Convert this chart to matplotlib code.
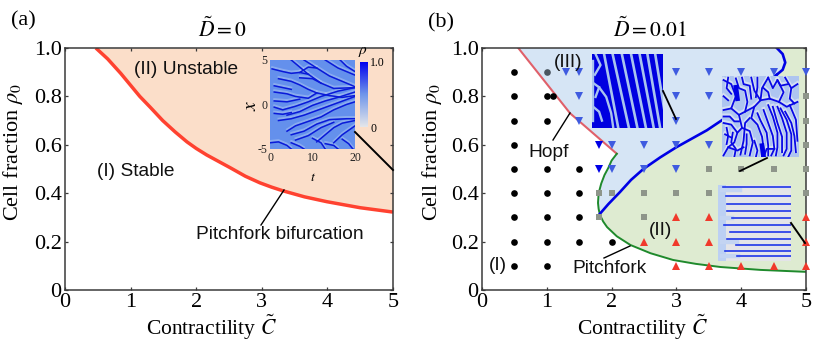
import matplotlib
matplotlib.use('Agg')
import numpy as np
import matplotlib.pyplot as plt
from matplotlib.colors import LinearSegmentedColormap
from matplotlib.cm import ScalarMappable
from matplotlib.colors import Normalize
from matplotlib.lines import Line2D

plt.rcParams['font.family'] = ['Liberation Serif', 'DejaVu Serif']
plt.rcParams['mathtext.fontset'] = 'stix'

W, H = 830, 342

# boundaries
pitch_a_c = [0.47, 0.65, 0.85, 1.14, 1.3, 1.49, 1.68, 1.86, 2.0, 2.16, 2.35, 2.52, 2.75, 2.97, 3.15, 3.32, 3.65, 3.99, 4.5, 5.0]
pitch_a_r = [1.0, 0.955, 0.895, 0.80, 0.755, 0.70, 0.653, 0.612, 0.585, 0.558, 0.53, 0.505, 0.47, 0.443, 0.425, 0.41, 0.385, 0.365, 0.34, 0.322]
hopf_c = [0.56, 1.36, 2.08]
hopf_r = [1.0, 0.73, 0.563]
pitch_b_c = [2.08, 2.0, 1.95, 1.89, 1.84, 1.80, 1.79, 1.80, 1.82, 1.87, 1.93, 2.08, 2.29, 2.6, 2.95, 3.3, 3.68, 4.3, 5.0]
pitch_b_r = [0.563, 0.535, 0.505, 0.475, 0.44, 0.40, 0.36, 0.335, 0.31, 0.283, 0.26, 0.222, 0.186, 0.152, 0.124, 0.108, 0.095, 0.083, 0.075]
sec_c = [1.82, 1.95, 2.13, 2.3, 2.49, 2.75, 3.0, 3.47, 3.71, 4.1, 4.55]
sec_r = [0.315, 0.355, 0.405, 0.455, 0.50, 0.548, 0.59, 0.66, 0.703, 0.79, 0.89]
arc_c = [4.55, 4.64, 4.68, 4.64, 4.55]
arc_r = [0.89, 0.91, 0.94, 0.975, 1.0]

# simulation points in panel (b)
stable_c = [0.5, 0.5, 0.5, 0.5, 0.5, 0.5, 0.5, 0.5, 0.5, 1, 1, 1, 1, 1, 1, 1, 1.1, 1.5, 1.5, 1.5, 1.5, 2]
stable_r = [0.9, 0.8, 0.7, 0.6, 0.5, 0.4, 0.3, 0.2, 0.1, 0.8, 0.7, 0.5, 0.4, 0.3, 0.2, 0.1, 0.8, 0.5, 0.4, 0.3, 0.2, 0.2]
edge_c = [1.0]
edge_r = [0.9]
hopf_pts_c = [1.3, 1.5, 3, 3.5, 4, 4.5, 5, 1.5, 3, 3.5, 1.5, 3, 2, 2.5, 3, 3.5, 2, 2.5, 3]
hopf_pts_r = [0.9, 0.9, 0.9, 0.9, 0.9, 0.9, 0.9, 0.8, 0.8, 0.8, 0.7, 0.7, 0.6, 0.6, 0.6, 0.6, 0.5, 0.5, 0.5]
hopf_dark_c = [1.8, 1.8]
hopf_dark_r = [0.6, 0.5]
gray_c = [5, 5, 5, 3.5, 4, 4.5, 5, 1.8, 2, 2.5, 3, 3.5, 5, 1.8, 2.5]
gray_r = [0.8, 0.7, 0.6, 0.5, 0.5, 0.5, 0.5, 0.4, 0.4, 0.4, 0.4, 0.4, 0.4, 0.3, 0.3]
red_c = [3, 3.5, 5, 2.5, 3, 3.5, 5, 3, 3.5, 4, 4.5, 5]
red_r = [0.3, 0.3, 0.3, 0.2, 0.2, 0.2, 0.2, 0.1, 0.1, 0.1, 0.1, 0.1]

# inset (a): fronts in (t, x)
fronts_a = [
    [(5, 5), (7, 4.2), (9, 3.4), (12, 2.4), (15, 1.8), (20, 1.9)],
    [(8, 5), (11, 4.1), (14, 3.2), (17, 2.6), (20, 2.0)],
    [(13, 5), (16, 4.1), (20, 3.3)],
    [(16.5, 5), (18, 4.3), (20, 3.7)],
    [(0.5, 4), (3, 3.7), (5, 3.5), (7, 3.6), (9, 3.4)],
    [(7, 3.6), (9, 4.2), (11, 4.1)],
    [(2, 2.9), (5, 2.6), (7, 2.2), (9, 1.7), (11, 1.3), (14, 1.0), (17, 0.8), (20, 1.0)],
    [(7, 3.0), (10, 2.9), (12, 2.4)],
    [(1, 1.4), (4, 1.2), (6, 0.9), (9, 0.7), (11, 1.3)],
    [(1, 0.4), (4, 0.3), (7, 0.6)],
    [(1, 2.1), (3, 1.9), (5, 1.7)],
    [(1, -1.0), (3, -1.1), (5, -0.9)],
    [(1, -0.3), (3, -0.6), (6, -0.2), (9, 0.3), (12, 0.9), (16, 1.5), (20, 1.9)],
    [(4, -1.2), (7, -0.8), (10, -0.1), (13, 0.4), (16, 0.8), (20, 1.4)],
    [(2, -1.8), (5, -1.6), (8, -1.2), (12, -0.5), (16, 0.2), (20, 0.9)],
    [(4, -3), (6, -2.4), (9, -1.9), (12, -1.4), (15, -0.6), (18, 0.0), (20, 0.3)],
    [(5, -3.4), (8, -3.0), (11, -2.2), (14, -1.7), (18, -1.6), (20, -1.6)],
    [(6, -4), (9, -3.5), (12, -2.6), (15, -2.0)],
    [(11, -4.2), (13, -3.4), (15, -2.6), (17, -2.1), (20, -1.8)],
    [(15, -4.3), (17, -3.4), (20, -2.4)],
    [(5, -4.3), (7, -4.7), (8, -5)],
    [(10, -3.8), (12, -4.3), (13, -5)],
    [(13, -4.4), (15, -4.6), (16, -5)],
    [(17, -3.9), (18.5, -4.4), (19.5, -5)],
    [(0, -4.3), (2, -4.2), (4, -4.6), (5, -5)],
]

# inset (b) top: light stripes, top and bottom position (fraction of width)
stripe_top = [0.17, 0.29, 0.42, 0.55, 0.67, 0.78, 0.89]
stripe_bot = [0.37, 0.52, 0.64, 0.76, 0.87, 0.96, 1.06]
stripe_left = [
    [(0.05, 1.0), (0.12, 0.85), (0.04, 0.72)],
    [(0.0, 0.62), (0.1, 0.55), (0.2, 0.42), (0.27, 0.2), (0.3, 0.0)],
    [(0.0, 0.3), (0.1, 0.22), (0.14, 0.1)],
    [(0.1, 0.55), (0.05, 0.42)],
    [(0.02, 0.9), (0.02, 0.1)],
]

# inset (b) right: maze of dark fronts
maze = [
    [(0.02, 0.95), (0.12, 0.9), (0.18, 0.75), (0.12, 0.6), (0.02, 0.58)],
    [(0.18, 0.97), (0.22, 0.85), (0.3, 0.82), (0.33, 0.68), (0.3, 0.56)],
    [(0.12, 0.6), (0.22, 0.52), (0.3, 0.56), (0.42, 0.62), (0.5, 0.7)],
    [(0.38, 0.98), (0.42, 0.82), (0.5, 0.7), (0.52, 0.85), (0.6, 0.98)],
    [(0.6, 0.98), (0.66, 0.85), (0.72, 0.95), (0.8, 0.8), (0.74, 0.68)],
    [(0.5, 0.7), (0.62, 0.72), (0.74, 0.68), (0.84, 0.62), (0.98, 0.68)],
    [(0.82, 0.98), (0.9, 0.85), (0.98, 0.9)],
    [(0.02, 0.42), (0.12, 0.4), (0.2, 0.3), (0.16, 0.18), (0.08, 0.12), (0.02, 0.02)],
    [(0.22, 0.52), (0.26, 0.36), (0.2, 0.3)],
    [(0.26, 0.36), (0.36, 0.32), (0.4, 0.18), (0.36, 0.02)],
    [(0.42, 0.62), (0.38, 0.48), (0.46, 0.4), (0.52, 0.25), (0.54, 0.1), (0.52, 0.0)],
    [(0.36, 0.48), (0.3, 0.42), (0.28, 0.2), (0.24, 0.03)],
    [(0.54, 0.58), (0.6, 0.42), (0.66, 0.26), (0.68, 0.1), (0.64, 0.02)],
    [(0.66, 0.62), (0.72, 0.42), (0.78, 0.25), (0.78, 0.06)],
    [(0.76, 0.6), (0.84, 0.46), (0.9, 0.28), (0.9, 0.08), (0.86, 0.0)],
    [(0.88, 0.64), (0.96, 0.46), (0.98, 0.2)],
    [(0.08, 0.12), (0.2, 0.08), (0.28, 0.12)],
    [(0.02, 0.75), (0.08, 0.7)],
    [(0.04, 0.28), (0.12, 0.24)],
    [(0.55, 0.02), (0.58, 0.1), (0.68, 0.1)],
    [(0.08, 0.98), (0.06, 0.85), (0.12, 0.78)],
    [(0.26, 0.98), (0.28, 0.9), (0.36, 0.88), (0.38, 0.72)],
    [(0.46, 0.98), (0.46, 0.86), (0.44, 0.74)],
    [(0.54, 0.85), (0.6, 0.8), (0.62, 0.72)],
    [(0.72, 0.95), (0.76, 0.88), (0.86, 0.9)],
    [(0.9, 0.85), (0.88, 0.72), (0.94, 0.66)],
    [(0.02, 0.5), (0.1, 0.5), (0.16, 0.44), (0.22, 0.44)],
    [(0.06, 0.36), (0.08, 0.26), (0.06, 0.16)],
    [(0.14, 0.3), (0.12, 0.18), (0.18, 0.1), (0.16, 0.0)],
    [(0.32, 0.28), (0.32, 0.16), (0.3, 0.04)],
    [(0.46, 0.54), (0.5, 0.45), (0.58, 0.3), (0.6, 0.14), (0.6, 0.02)],
    [(0.6, 0.64), (0.66, 0.5), (0.72, 0.3), (0.72, 0.12), (0.7, 0.02)],
    [(0.72, 0.62), (0.78, 0.48), (0.84, 0.3), (0.84, 0.1), (0.8, 0.02)],
    [(0.82, 0.56), (0.9, 0.42), (0.94, 0.26), (0.96, 0.06)],
    [(0.42, 0.2), (0.46, 0.08), (0.44, 0.0)],
]
maze_thick = [
    [(0.18, 0.86), (0.2, 0.72)],
    [(0.52, 0.14), (0.54, 0.0)],
]

# inset (b) bottom: horizontal fingers
finger_y = [0.98, 0.85, 0.745, 0.655, 0.56, 0.47, 0.38, 0.29, 0.205, 0.135, 0.065]
finger_x0 = [0.07, 0.11, 0.12, 0.12, 0.19, 0.08, 0.17, 0.12, 0.25, 0.1, 0.26]
pale_y = [0.93, 0.56, 0.25, 0.065]
pale_x1 = [0.3, 0.19, 0.26, 0.28]

ink = '#3a3a3a'
dark_blue = '#0000e6'
cmap_rho = LinearSegmentedColormap.from_list('rho', ['#e4e6ea', '#6f96ea', '#0000ee'])

fig = plt.figure(figsize=(W / 100, H / 100), dpi=100)


def box(x0, y0, x1, y1):
    # pixel box (y from top) to figure fractions
    return [x0 / W, 1 - y1 / H, (x1 - x0) / W, (y1 - y0) / H]


def leader(x0, y0, x1, y1, lw=1.3):
    fig.add_artist(Line2D([x0 / W, x1 / W], [1 - y0 / H, 1 - y1 / H], color='black', lw=lw, zorder=8))


def sans(ax, x, y, s, size=13.8):
    ax.text(x, y, s, family='Liberation Sans', fontsize=size, ha='center', va='center', color='#111111', zorder=9)


def main_axes(rect, xlabel_x, ylabel_x):
    ax = fig.add_axes(box(*rect))
    ax.set_xlim(0, 5)
    ax.set_ylim(0, 1)
    ax.set_xticks([0, 1, 2, 3, 4, 5])
    ax.set_xticklabels(['0', '1', '2', '3', '4', '5'])
    ax.set_yticks([0, 0.2, 0.4, 0.6, 0.8, 1.0])
    ax.set_yticklabels(['0', '0.2', '0.4', '0.6', '0.8', '1.0'])
    ax.tick_params(direction='in', top=True, right=True, length=2, width=0.9, color=ink,
                   labelsize=16, pad=2.5)
    for s in ax.spines.values():
        s.set_color(ink)
        s.set_linewidth(1.1)
        s.set_zorder(6)
    ax.set_xlabel(r'Contractility $\tilde{C}$', fontsize=15.5)
    ax.set_ylabel(r'Cell fraction $\rho_0$', fontsize=16)
    ax.xaxis.set_label_coords(xlabel_x, -0.095)
    ax.yaxis.set_label_coords(ylabel_x, 0.57)
    return ax


def bare_inset(rect):
    ins = fig.add_axes(box(*rect), zorder=5)
    ins.set_xticks([])
    ins.set_yticks([])
    for s in ins.spines.values():
        s.set_visible(False)
    return ins


# ---- panel (a)
ax1 = main_axes((65, 48, 393, 290), 0.445, -0.121)
ax1.fill_between(pitch_a_c, pitch_a_r, 1, color='#fbdec9', lw=0)
ax1.plot(pitch_a_c, pitch_a_r, color='#ff4230', lw=2.5, solid_capstyle='butt', zorder=4)
sans(ax1, 1.84, 0.91, '(II) Unstable')
sans(ax1, 1.08, 0.49, '(I) Stable')
sans(ax1, 3.28, 0.23, 'Pitchfork bifurcation')

ins_a = fig.add_axes(box(270, 60, 355, 149), zorder=5)
ins_a.set_facecolor('#6490ec')
ins_a.set_xlim(0, 20)
ins_a.set_ylim(-5, 5)
for f in fronts_a:
    t = [p[0] for p in f]
    x = [p[1] for p in f]
    ins_a.plot(t, np.array(x) + 0.2, color='#c4d6f4', lw=1.4, alpha=0.4)
for f in fronts_a:
    ins_a.plot([p[0] for p in f], [p[1] for p in f], color='#0a1ad8', lw=1.1)
ins_a.set_xticks([0, 10, 20])
ins_a.set_yticks([-5, 0, 5])
ins_a.set_yticklabels(['-5', '0', '5'])
ins_a.tick_params(length=0, labelsize=8.5, pad=2, labelcolor='#222222')
for s in ins_a.spines.values():
    s.set_visible(False)
fig.text(251 / W, 1 - 105 / H, r'$x$', fontsize=14, ha='center', va='center', rotation=90)
fig.text(313 / W, 1 - 177 / H, r'$t$', fontsize=10, ha='center', va='center')

cax = fig.add_axes(box(360, 62, 368, 127), zorder=5)
cb = fig.colorbar(ScalarMappable(Normalize(0, 1), cmap_rho), cax=cax)
cb.set_ticks([0, 1.0])
cb.set_ticklabels(['0', '1.0'])
cb.ax.tick_params(length=0, labelsize=8.5, pad=1.5)
cb.outline.set_visible(False)
fig.text(363 / W, 1 - 52 / H, r'$\rho$', fontsize=11, ha='center', va='center')

leader(355, 132, 393, 170, lw=1.4)
leader(284, 190, 261, 225, lw=1.0)

# ---- panel (b)
ax2 = main_axes((482, 48, 806, 290), 0.495, -0.118)
ax2.set_facecolor('white')
# green: everything right of the Pitchfork curve
green_c = pitch_b_c + [5, hopf_c[-1]]
green_r = pitch_b_r + [1.0, 1.0]
ax2.fill(green_c, green_r, color='#deebd1', lw=0, zorder=1)
# blue: bounded by Hopf, top, arc, secondary branch and Pitchfork
kink = pitch_b_c.index(1.82) + 1
blue_c = hopf_c + pitch_b_c[1:kink] + sec_c[1:] + arc_c[1:]
blue_r = hopf_r + pitch_b_r[1:kink] + sec_r[1:] + arc_r[1:]
ax2.fill(blue_c, blue_r, color='#d6e5f5', lw=0, zorder=2)
ax2.plot(hopf_c, hopf_r, color='#e0606a', lw=1.5, zorder=3)
ax2.plot(pitch_b_c, pitch_b_r, color='#1f8a2c', lw=1.4, zorder=3)
ax2.plot(sec_c, sec_r, color=dark_blue, lw=1.9, zorder=3)
ax2.plot(arc_c, arc_r, color=dark_blue, lw=1.9, zorder=3)

mk = dict(clip_on=False, zorder=7, linestyle='none', markeredgewidth=0)
ax2.plot(stable_c, stable_r, 'o', color='black', ms=4.8, **mk)
ax2.plot(edge_c, edge_r, 'o', color='#4a5560', ms=4.8, **mk)
ax2.plot(hopf_pts_c, hopf_pts_r, 'v', color='#3f5be0', ms=5.6, **mk)
ax2.plot(hopf_dark_c, hopf_dark_r, 'v', color='#0000e6', ms=5.6, **mk)
ax2.plot(gray_c, gray_r, 's', color='#8e958a', ms=4, **mk)
ax2.plot(red_c, red_r, '^', color='#f0392b', ms=5.6, **mk)

sans(ax2, 1.33, 0.94, '(III)')
sans(ax2, 1.03, 0.57, 'Hopf')
sans(ax2, 2.76, 0.245, '(II)')
sans(ax2, 0.24, 0.1, '(I)')
sans(ax2, 1.96, 0.087, 'Pitchfork')

# stripes inset
ins_b1 = bare_inset((592, 54, 663, 128))
ins_b1.set_facecolor('#0000e0')
ins_b1.set_xlim(0, 1)
ins_b1.set_ylim(0, 1)
for xt, xb in zip(stripe_top, stripe_bot):
    ins_b1.plot([xt, xb], [1, 0], color='#a9c3ee', lw=1.9)
for s_line in stripe_left:
    ins_b1.plot([p[0] for p in s_line], [p[1] for p in s_line], color='#a9c3ee', lw=1.7)

# maze inset
ins_b2 = bare_inset((722, 76, 799, 157))
ins_b2.set_facecolor('#aec5f0')
ins_b2.set_xlim(0, 1)
ins_b2.set_ylim(0, 1)
for m in maze:
    ins_b2.plot([p[0] for p in m], np.array([p[1] for p in m]) + 0.015, color='#e4e9f5', lw=2.6, alpha=0.7)
for m in maze:
    ins_b2.plot([p[0] for p in m], [p[1] for p in m], color='#0808e6', lw=1.3)
for m in maze_thick:
    ins_b2.plot([p[0] for p in m], [p[1] for p in m], color='#0000e6', lw=3.4)

# fingers inset
ins_b3 = bare_inset((718, 185, 791, 261))
ins_b3.set_facecolor('#e3e4e8')
ins_b3.set_xlim(0, 1)
ins_b3.set_ylim(0, 1)
ins_b3.axvspan(0, 0.11, color='#bcd0f3', lw=0)
for py, px in zip(pale_y, pale_x1):
    ins_b3.plot([0.05, px], [py, py], color='#c3d4f2', lw=3.2)
for fy, fx in zip(finger_y, finger_x0):
    ins_b3.plot([fx, 1], [fy, fy], color='#1f35e8', lw=1.2)

leader(663, 91, 676, 119)
leader(767, 158, 740, 171)
leader(791, 223, 805, 243, lw=1.4)
leader(570, 113, 553, 140, lw=1.0)
leader(630, 246, 604, 258, lw=1.0)

# ---- titles and panel tags
fig.text(222 / W, 1 - 30 / H, r'$\tilde{D}=0$', fontsize=15.5, ha='center', va='center')
fig.text(650 / W, 1 - 30 / H, r'$\tilde{D}=0.01$', fontsize=15.5, ha='center', va='center')
fig.text(23 / W, 1 - 21 / H, '(a)', fontsize=16, ha='center', va='center')
fig.text(441 / W, 1 - 23 / H, '(b)', fontsize=16, ha='center', va='center')

fig.savefig('out.png', dpi=100)
